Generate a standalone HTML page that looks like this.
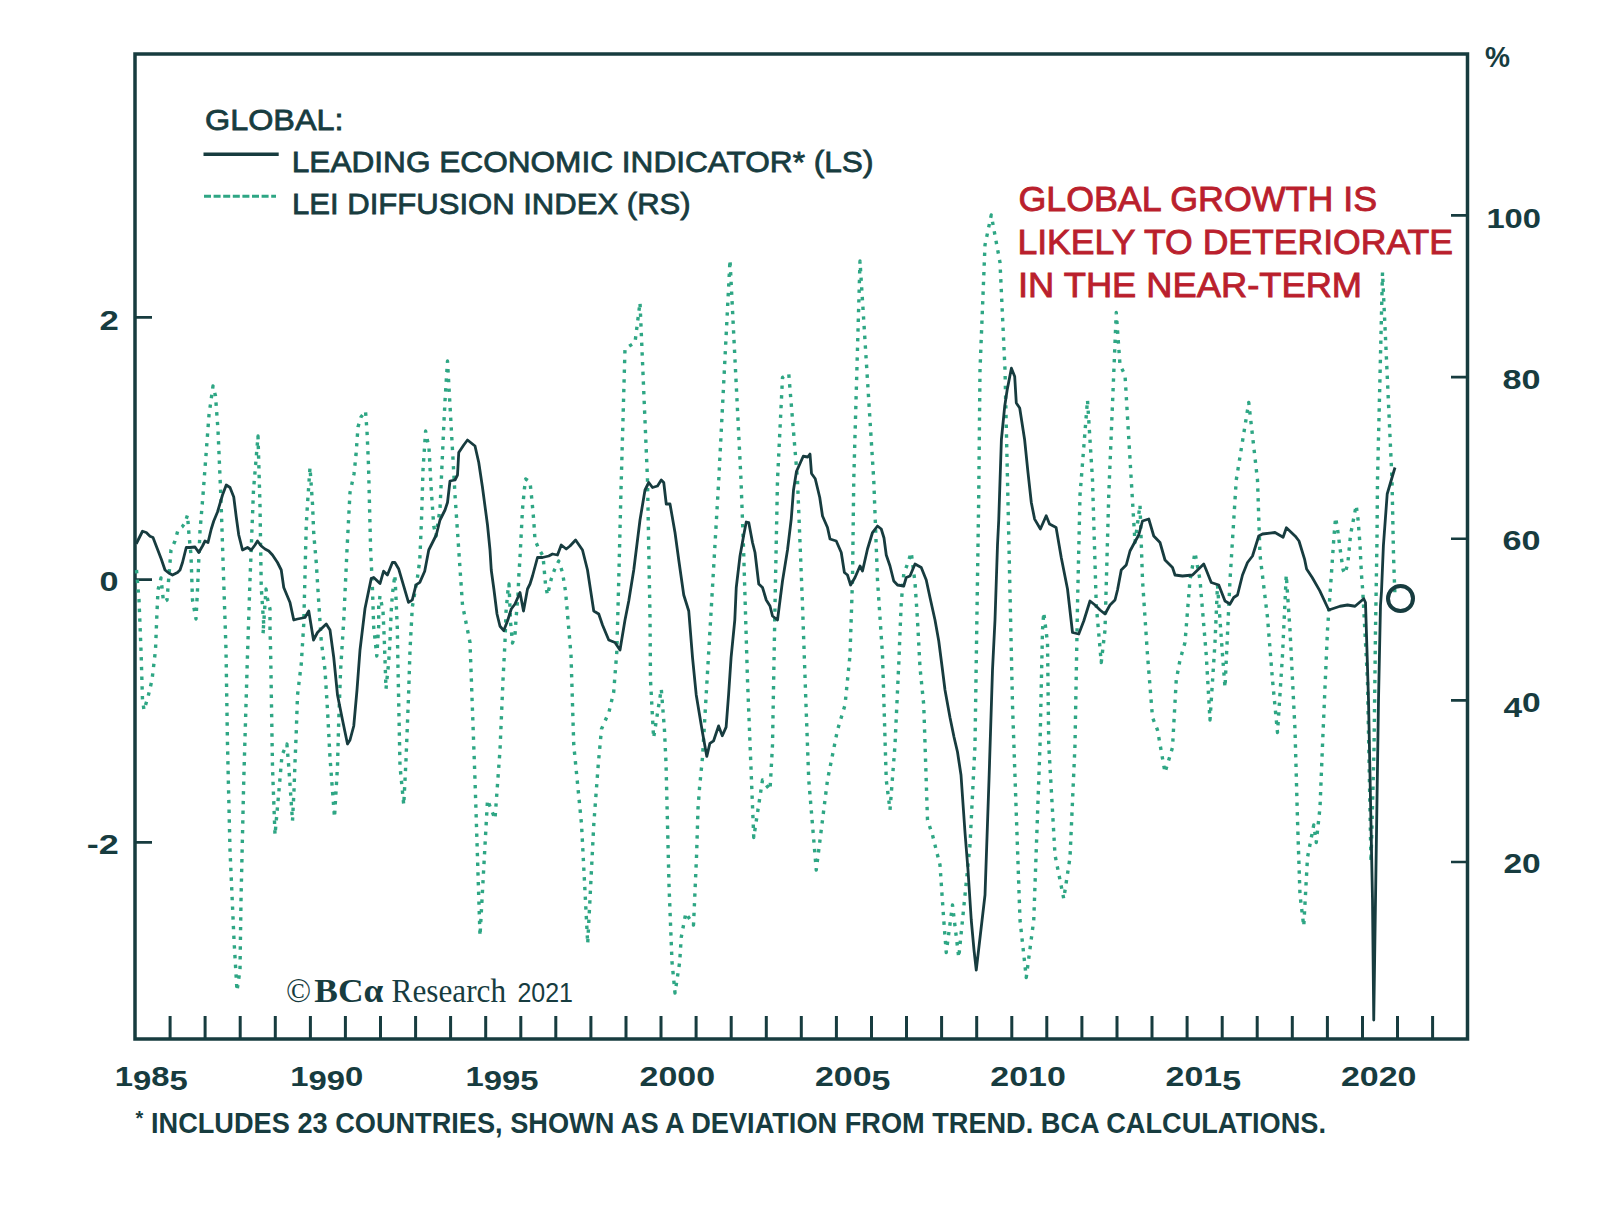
<!DOCTYPE html>
<html><head><meta charset="utf-8">
<style>
html,body{margin:0;padding:0;background:#fff;width:1600px;height:1205px;overflow:hidden}
svg{display:block}
.t{font-family:"Liberation Sans",sans-serif;fill:#173c3f}
.b{font-weight:bold}
.r{font-family:"Liberation Sans",sans-serif;fill:#ba1f2d}
.s{font-family:"Liberation Serif",serif;fill:#173c3f}
</style></head><body>
<svg width="1600" height="1205" viewBox="0 0 1600 1205">
<g stroke="#173c3f" fill="none">
<path d="M135,1039 V54 H1467.5 V1039 Z" stroke-width="3.5"/>
<path d="M170.1,1039 V1016 M205.1,1039 V1016 M240.2,1039 V1016 M275.3,1039 V1016 M310.4,1039 V1016 M345.4,1039 V1016 M380.5,1039 V1016 M415.6,1039 V1016 M450.6,1039 V1016 M485.7,1039 V1016 M520.8,1039 V1016 M555.8,1039 V1016 M590.9,1039 V1016 M626.0,1039 V1016 M661.0,1039 V1016 M696.1,1039 V1016 M731.2,1039 V1016 M766.3,1039 V1016 M801.3,1039 V1016 M836.4,1039 V1016 M871.5,1039 V1016 M906.5,1039 V1016 M941.6,1039 V1016 M976.7,1039 V1016 M1011.8,1039 V1016 M1046.8,1039 V1016 M1081.9,1039 V1016 M1117.0,1039 V1016 M1152.0,1039 V1016 M1187.1,1039 V1016 M1222.2,1039 V1016 M1257.2,1039 V1016 M1292.3,1039 V1016 M1327.4,1039 V1016 M1362.5,1039 V1016 M1397.5,1039 V1016 M1432.6,1039 V1016 " stroke-width="3"/>
<path d="M135,317.4 H152 M135,579.6 H152 M135,842.4 H152" stroke-width="2.6"/>
<path d="M1451,215.4 H1467 M1451,377.1 H1467 M1451,538.7 H1467 M1451,700.4 H1467 M1451,862 H1467" stroke-width="2.6"/>
</g>
<text class="t b" x="99.5" y="329.8" font-size="27.5" textLength="19.3" lengthAdjust="spacingAndGlyphs">2</text>
<text class="t b" x="99.5" y="591" font-size="27.5" textLength="19" lengthAdjust="spacingAndGlyphs">0</text>
<text class="t b" x="86.8" y="853.5" font-size="27.5" textLength="32" lengthAdjust="spacingAndGlyphs">-2</text>
<text class="t b" x="1486.4" y="227.6" font-size="27.5" textLength="54.6" lengthAdjust="spacingAndGlyphs">100</text>
<text class="t b" x="1502.5" y="388.7" font-size="27.5" textLength="38" lengthAdjust="spacingAndGlyphs">80</text>
<text class="t b" x="1502.5" y="550.3" font-size="27.5" textLength="38" lengthAdjust="spacingAndGlyphs">60</text>
<text class="t b" x="1503.4" y="712" font-size="27.5" textLength="37.3" lengthAdjust="spacingAndGlyphs"><tspan dy="4.5">4</tspan><tspan dy="-4.5">0</tspan></text>
<text class="t b" x="1503.4" y="873.2" font-size="27.5" textLength="37.3" lengthAdjust="spacingAndGlyphs">20</text>
<text class="t b" x="1485" y="66.5" font-size="30" textLength="25" lengthAdjust="spacingAndGlyphs">%</text>
<text class="t" x="205" y="129.6" font-size="30.4" textLength="138.48" lengthAdjust="spacingAndGlyphs" stroke="#173c3f" stroke-width="0.8">GLOBAL:</text>
<text class="t" x="291.8" y="172.2" font-size="30.4" textLength="581.62" lengthAdjust="spacingAndGlyphs" stroke="#173c3f" stroke-width="0.8">LEADING ECONOMIC INDICATOR* (LS)</text>
<text class="t" x="292.0" y="214.2" font-size="30.4" textLength="398.64" lengthAdjust="spacingAndGlyphs" stroke="#173c3f" stroke-width="0.8">LEI DIFFUSION INDEX (RS)</text>
<path d="M203.5,154.3 H278.7" stroke="#173c3f" stroke-width="3.5"/>
<path d="M204,196.3 H276" stroke="#2ea684" stroke-width="3" stroke-dasharray="7 2.6"/>
<text class="r" x="1018.4" y="211.2" font-size="35.3" textLength="358.62" lengthAdjust="spacingAndGlyphs" stroke="#ba1f2d" stroke-width="0.9">GLOBAL GROWTH IS</text>
<text class="r" x="1017.4" y="253.70000000000002" font-size="35.3" textLength="435.62" lengthAdjust="spacingAndGlyphs" stroke="#ba1f2d" stroke-width="0.9">LIKELY TO DETERIORATE</text>
<text class="r" x="1018" y="297" font-size="35.3" textLength="344.07" lengthAdjust="spacingAndGlyphs" stroke="#ba1f2d" stroke-width="0.9">IN THE NEAR-TERM</text>
<text class="t b" x="114.8" y="1085.5" font-size="27.5" textLength="73" lengthAdjust="spacingAndGlyphs">1<tspan dy="4.5">9</tspan><tspan dy="-4.5">8</tspan><tspan dy="4.5">5</tspan></text><text class="t b" x="290.2" y="1085.5" font-size="27.5" textLength="73" lengthAdjust="spacingAndGlyphs">1<tspan dy="4.5">9</tspan>9<tspan dy="-4.5">0</tspan></text><text class="t b" x="465.5" y="1085.5" font-size="27.5" textLength="73" lengthAdjust="spacingAndGlyphs">1<tspan dy="4.5">9</tspan>95</text><text class="t b" x="639.6" y="1085.5" font-size="27.5" textLength="75.5" lengthAdjust="spacingAndGlyphs">2000</text><text class="t b" x="814.9" y="1085.5" font-size="27.5" textLength="75.5" lengthAdjust="spacingAndGlyphs">200<tspan dy="4.5">5</tspan></text><text class="t b" x="990.3" y="1085.5" font-size="27.5" textLength="75.5" lengthAdjust="spacingAndGlyphs">2010</text><text class="t b" x="1165.6" y="1085.5" font-size="27.5" textLength="75.5" lengthAdjust="spacingAndGlyphs">201<tspan dy="4.5">5</tspan></text><text class="t b" x="1341.0" y="1085.5" font-size="27.5" textLength="75.5" lengthAdjust="spacingAndGlyphs">2020</text>
<text class="t b" x="135.5" y="1125" font-size="20">*</text>
<text class="t b" x="151" y="1132.8" font-size="30.3" textLength="1175" lengthAdjust="spacingAndGlyphs">INCLUDES 23 COUNTRIES, SHOWN AS A DEVIATION FROM TREND. BCA CALCULATIONS.</text>
<text class="s" x="286" y="1002.3" font-size="33">©</text>
<text class="s b" x="314.3" y="1002.3" font-size="33" textLength="69" lengthAdjust="spacingAndGlyphs">BCα</text>
<text class="s" x="391.6" y="1002.3" font-size="33" textLength="114.4" lengthAdjust="spacingAndGlyphs">Research</text>
<text class="t" x="517.4" y="1002.3" font-size="27" textLength="55.6" lengthAdjust="spacingAndGlyphs">2021</text>
<g fill="none" stroke-linejoin="round">
<polyline points="136.5,570 139,600 141,650 142.5,700 144,710 148,697 152,680 155.5,650 157,612 158,590 161,578 163.5,602 167,600 169,575 171,550 175,541 178,530 182,527 185,523 187.5,515 189,535 191,555 192.5,600 196,619 197.5,590 200,531 203,495 206,455 209,415 213,386 215.5,396 218,430 221,500 224,590 226,650 227.5,745 230,850 234,940 237,991 240,970 241,900 243.75,780 247.5,655 250,580 253.5,490 258,436 260,506 261.25,587.5 263.75,625 263,634 266,589 267.5,599 270,609 270,629 270.6,650 272.5,767.5 275,835 279,790 282,755 286.9,744 289,770 292.5,821 294,790 295,762.5 296.25,732.5 297.5,695 301.25,664 303.75,624 305,575 306.25,525 307.5,504 310,467.5 312.5,504 313.75,534 316.25,562.5 318.75,602.5 321.25,641 325,670 327.5,710 330,757.5 334.5,817.5 337.5,766 338.75,720 340.6,670 343.75,620 347,550 350,492.5 354,474 356,455 358,427 361,417 365.5,411 367,431 368.5,465 370.6,549 372.4,587 373.7,627 376.8,656 378.7,626 378.7,606 380,596 383,611 384.3,640 385,660 386,689 388.6,663 389.9,643 391.1,613 392.4,594 394.9,575 396.1,600 397.3,628 398,668 398.6,697 400,766 403.75,805 406,760 408.5,697 410,650 412.3,607 417.3,578.6 419.8,560 421.5,520 423,470 425.6,431 429,448 431,486 433.75,526 436,536 440,509 442,465 444,421 445,401 447.5,361 455,495 462.5,605 470,642.5 475,780 480,936 487.5,800 495,819 500,750 503,680 505,642 506,612 508,590 509,584 510.6,623 512.5,643 515,635 516.25,616 518,595 518.75,577 520,557.5 522.5,509 524.4,489 525.6,479 530,482 532,501 533.75,520.6 535,540 538.75,548.75 543,556 545.6,585.6 547.5,595 551.25,579 554.4,570 558.75,561 562.5,572.5 565.6,592 568,620 571,655 573.75,745 581.5,824 587.7,943.7 593.8,824 598.4,762.7 601.5,729 609,712 613.7,692 616.8,652 618.75,580 621,490 625,348.75 635,342.5 640,302.5 647.5,480 650,617 650.5,680 653.6,738 661.3,689 664.4,729 666,763 669,885 672,962 675,993 679.7,962 681.2,937.5 685.8,913 693.5,925 695,891.5 696.6,854.7 698,808.7 699.6,787 702.5,757.5 710,630 718.75,480 730,260 741,480 743.75,555 747.5,680 753.75,837.5 762.5,780 770,790 772.5,745 775,605 777.5,480 782.5,377.5 788.75,373.75 797.5,480 802.5,605 806,705 808.75,780 816.25,870 827.5,780 837.5,730 845,705 850,655 852.5,580 853.75,480 860,261 873.75,480 877.5,580 882.5,655 886.25,780 890,810 895,745 898.75,664 900,632.5 901.25,602.5 903.75,574 907.5,564 911.25,552.5 915,582.5 917.5,620 920,667.5 923.75,705 927.5,820 932.5,835 940,865 943.75,920 946.25,952.5 952.5,905 958.75,957.5 965,895 970,845 975,745 978.75,495 980,370 985,245 991.25,215 1000,262.5 1005,370 1007.5,480 1012.5,705 1020,920 1026.25,977.5 1033.75,920 1040,745 1042.5,630 1043.75,612.5 1047.5,642.5 1048.75,745 1055,855 1063.75,898.75 1070,857.5 1075,745 1077.5,605 1080,495 1087.5,400 1092.5,480 1096.25,605 1101.25,662.5 1105,630 1108.75,495 1116.25,312.5 1120,365 1125,375 1131.25,480 1135,542.5 1140,505 1142.5,580 1147.5,655 1152.5,717.5 1157.5,730 1165,772.5 1172.5,747.5 1176.25,680 1180,660 1185,642.5 1190,580 1195,552.5 1200,580 1206.25,655 1210,720 1215,642.5 1217.5,585 1222.5,655 1225,687.5 1230,580 1236.25,480 1248.75,402.5 1257.5,480 1260,555 1267.5,617.5 1272.5,680 1277.5,732.5 1282.5,655 1286.25,575 1290,630 1295,730 1297.5,820 1300,895 1303.75,926.25 1307.5,857.5 1313.75,825 1316.25,842.5 1320,807.5 1322.5,745 1327.5,630 1331,580 1334,536 1335.6,517.5 1337.5,528.7 1340.3,550.3 1343.1,570 1345,573.7 1347.8,563.4 1350.6,534.4 1354.4,514.7 1356.2,505.3 1358.1,520 1360,544.7 1361.4,573.7 1362.8,591.5 1367.5,680 1371,862 1374,750 1375.5,630 1377,540 1377.5,480 1382.5,272.5 1392,480 1393.5,555 1395,597.5" stroke="#2ea684" stroke-width="3.4" stroke-dasharray="3.4 6.3"/>
<polyline points="136.25,543.75 142.5,531.25 146.25,532.5 150,536.25 153,537.5 156.25,546 161.25,559 165,570 168.75,573 172.5,575 177.5,572.5 180,570 182.5,562.5 186.25,547.5 190,547.5 195,547 198.75,552.5 202.5,546 205,541 208,542.5 211.25,529 213.75,521 217.5,512 222.5,495 226.25,485 230,487.5 233.75,497 236.25,517 238.75,535 242.5,550 247.5,547.5 251.25,550 255,545 257.5,541 261.25,546 265,549 268.75,551 272.5,555 277.5,562.5 281.25,570 283.75,587.5 290,602.5 293.75,620 297.5,619 305,617.5 308.75,611 313.5,640 317.5,632.5 320,630 326.25,624 330,630 333.75,657.5 337.5,695 342.5,720 347.5,744 350,740 353.75,726 357,690 360,650 365,608.5 371.2,578.6 373.7,577.4 380,583.6 383.6,571.2 387.4,575 392.4,562.5 394.9,562.5 398.6,568.7 408.5,602.3 412.3,599.8 416,584.9 419.8,582.4 424.7,571.2 428.75,550 436.25,535 440,520 445,510 447.5,502.5 450,481 455,480 457.5,475 458.75,452.5 463.75,445 467.5,440 475,446 478.75,462.5 482.5,487.5 487.5,525 490,550 491.25,570 494,590 497,614 500,626.25 503.75,630.6 507.5,621 511.25,609 515,604 520,592.5 523.5,611 527.5,589 530,584 532.5,576 537.5,557.5 542.5,557.5 548.75,556 552.5,554 557.5,555 561.25,545 566.25,549 570,546 575.6,540 582.5,550 587.5,570 593.75,611 598.75,614 602.5,625 608.75,640 615,642.5 620,650 625,620 628.75,601 633.75,570 640,520 645,490 648.75,482.5 652.5,487.5 657.5,486 661.25,480 663.75,482.5 666.25,504 670,504 675,532.5 678.75,560 683.75,595 688.75,611 692.5,657.4 696.2,694.7 702.4,732 706.8,756.4 709.9,743.3 713.6,740.8 718.6,725.9 722.3,735.8 726.1,727.1 728.6,694.7 731.1,657.4 734.8,620 736.25,587.5 740,556 743.75,535 746.25,522 748.75,522.5 752.5,542.5 755,552.5 758.75,584 762.5,587.5 766.25,600 770,606 772.5,616 777.5,620 782.5,581 787.5,550 791.25,519 793.5,490 796.5,471.3 800.25,463 803.25,456.25 807.75,457 810,454 811.5,473.5 815.25,478.75 819.75,497.5 822.5,516 827.5,527.5 830,539 836.25,541 841.25,552.5 844.4,572.5 847.5,575 850.6,585 855,577.5 860,566 862.5,571 867.5,549 872.5,532.5 877.5,526 881.25,529 884,538 886.25,555 890,566 893.75,581 897.5,585 903.75,586 906.25,577.5 910,576 915,564 921.25,567.5 926.25,580 930,597.5 935,620 938.75,641 942.5,670 945,690 950,717.5 954,737 957.5,752 961,775 965,832.5 968,870 971.25,920 974,950 976.25,970 985,895 989,780 992.5,670 995,620 997.5,545 998.75,520 999.75,489 1001.4,439.5 1004.7,406.3 1007.2,389.8 1011.4,368.2 1014.7,376.5 1016.3,403 1019.7,408 1024.6,439.5 1028,472.7 1031.3,502.5 1034.6,519.1 1040.4,529 1046.2,515.8 1049.5,524 1056.1,527.4 1061.25,557.5 1067.5,589 1072.5,632.5 1078.75,634 1083.75,621 1090,601 1095,605 1100,610 1105,614 1110,605 1115,600 1117.5,590 1121.25,570 1126.25,565 1130,551 1133.75,544 1138.75,535 1142.5,521 1148.75,519 1153.75,536 1160,542.5 1165,560 1172.5,567.5 1175,575 1182.5,576 1192.5,575 1203.75,564 1206.25,570 1211.25,582.5 1218.75,585 1225,601 1230,604 1233.75,597.5 1237.5,595 1242.5,575 1247.5,562.5 1252.5,556 1258.75,536 1262.5,534 1275,532.5 1283.1,537.2 1286.4,527.8 1295.3,536.2 1299,541 1304.7,559.7 1306.6,569 1312.2,577.5 1319.7,590.6 1328.75,610 1340,606.25 1347.5,605 1355,606.25 1363.75,598.75 1365.5,602.5 1368.5,700 1370.5,800 1372.5,900 1373.75,1020 1375.5,900 1377,800 1378.5,700 1380.5,605 1381.5,591.5 1383.4,545.6 1387.2,494 1391,481 1395,467.5" stroke="#173c3f" stroke-width="2.8"/>
<circle cx="1400.5" cy="598.5" r="12.5" stroke="#173c3f" stroke-width="4"/>
</g>
</svg>
</body></html>
